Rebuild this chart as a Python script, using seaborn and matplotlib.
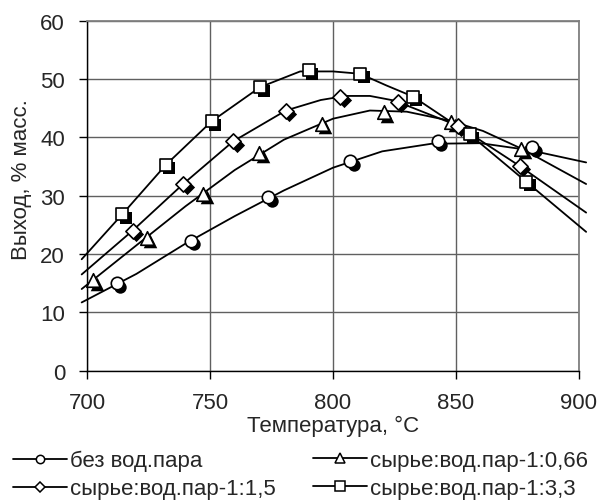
import matplotlib
matplotlib.use("Agg")
import matplotlib.pyplot as plt
import matplotlib.transforms as mtrans
from matplotlib.lines import Line2D
import seaborn as sns
import pandas as pd

# measured points
circ_x = [711.9, 742.0, 773.6, 807.1, 842.7, 881.1]
circ_y = [15.0, 22.3, 29.7, 35.9, 39.3, 38.3]
tri_x = [702.4, 724.1, 747.2, 769.9, 795.5, 820.7, 848.1, 876.6]
tri_y = [15.5, 22.8, 30.3, 37.4, 42.3, 44.3, 42.7, 38.0]
dia_x = [718.4, 739.0, 759.3, 780.8, 803.0, 826.4, 850.8, 875.9]
dia_y = [24.0, 32.0, 39.3, 44.6, 47.0, 46.1, 42.0, 35.1]
sq_x = [714.2, 732.0, 750.6, 770.3, 790.2, 811.1, 832.5, 855.6, 878.6]
sq_y = [26.8, 35.3, 42.75, 48.6, 51.5, 50.9, 47.0, 40.5, 32.4]

# trend curves
circ_cx = [697.7, 720, 740, 760, 780, 800, 820, 840, 860, 880, 903]
circ_cy = [11.7, 16.6, 21.8, 26.5, 30.9, 34.8, 37.6, 38.9, 39.0, 37.8, 35.7]
tri_cx = [697.7, 720, 740, 760, 780, 800, 815, 830, 847, 861, 877, 903]
tri_cy = [14.0, 21.5, 28.2, 34.4, 39.6, 43.2, 44.6, 44.4, 42.9, 41.1, 38.0, 32.0]
dia_cx = [697.7, 718.4, 739, 759.3, 780.8, 795, 805, 815, 825, 850.8, 875.9, 903]
dia_cy = [16.5, 24.0, 32.0, 39.3, 44.6, 46.4, 47.1, 47.1, 46.3, 42.0, 35.1, 27.1]
sq_cx = [697.7, 714.2, 732, 750.6, 770.3, 786.6, 800, 811, 821.7, 832.5, 855.6, 878.6, 903]
sq_cy = [19.1, 26.8, 35.3, 42.75, 48.6, 51.3, 51.3, 50.9, 48.9, 47.0, 40.5, 32.4, 23.8]

labels = ["без вод.пара", "сырье:вод.пар-1:0,66", "сырье:вод.пар-1:1,5", "сырье:вод.пар-1:3,3"]
markers = ["o", "^", "D", "s"]
msizes = [80, 95, 60, 80]

xticks = [700, 750, 800, 850, 900]
yticks = [0, 10, 20, 30, 40, 50, 60]

sns.set_theme(style="white")
plt.rcParams["font.family"] = ["Liberation Sans", "DejaVu Sans"]
FS = 16
LFS = 16

fig = plt.figure(figsize=(6.01, 5.02), dpi=100)
ax = fig.add_axes([0.1453, 0.2596, 0.963 - 0.1453, 0.9568 - 0.2596])

series = [(circ_x, circ_y, circ_cx, circ_cy), (tri_x, tri_y, tri_cx, tri_cy),
          (dia_x, dia_y, dia_cx, dia_cy), (sq_x, sq_y, sq_cx, sq_cy)]

shadow = ax.transData + mtrans.ScaledTranslation(2.5 / 72, -2.5 / 72, fig.dpi_scale_trans)

for (mx, my, cx, cy), lab, m, s in zip(series, labels, markers, msizes):
    cdf = pd.DataFrame({"x": cx, "y": cy})
    sns.lineplot(data=cdf, x="x", y="y", ax=ax, color="black", lw=1.3,
                 sort=False, estimator=None, clip_on=False, zorder=3)
    mdf = pd.DataFrame({"x": mx, "y": my})
    n0 = len(ax.collections)
    sns.scatterplot(data=mdf, x="x", y="y", ax=ax, marker=m, s=s, color="black",
                    edgecolor="black", linewidth=0, zorder=4, clip_on=False)
    ax.collections[n0].set_offset_transform(shadow)
    sns.scatterplot(data=mdf, x="x", y="y", ax=ax, marker=m, s=s, color="white",
                    edgecolor="black", linewidth=1.2, zorder=5, clip_on=False)

ax.set_xlim(700, 900)
ax.set_ylim(0, 60)
ax.set_xticks(xticks)
ax.set_yticks(yticks)
ax.grid(True, color="#606060", lw=1.0)
ax.set_axisbelow(True)
for sp in ["left", "bottom"]:
    ax.spines[sp].set_color("black")
    ax.spines[sp].set_linewidth(1.0)
for sp in ["top", "right"]:
    ax.spines[sp].set_color("#808080")
    ax.spines[sp].set_linewidth(1.3)
ax.tick_params(axis="both", which="major", direction="out", length=6, width=1,
               color="black", labelsize=FS, bottom=True, left=True)
ax.tick_params(axis="x", pad=9.5)
ax.tick_params(axis="y", pad=10)
ax.set_xlabel("Температура, °C", fontsize=FS, labelpad=1)
ax.set_ylabel("Выход, % масс.", fontsize=FS)
ax.yaxis.set_label_coords(-0.112, 0.548)

hs = [Line2D([0], [0], color="black", lw=1.3, marker=m, markersize=ms,
             markerfacecolor="white", markeredgecolor="black", markeredgewidth=1.1)
      for m, ms in zip(markers, [6, 7, 5.5, 6.5])]
kw = dict(loc="upper left", frameon=False, fontsize=LFS, handlelength=2.45,
          handletextpad=0.12, labelspacing=0.32, borderaxespad=0, borderpad=0)
fig.legend([hs[0], hs[2]], [labels[0], labels[2]], bbox_to_anchor=(13 / 601, 0.1016), **kw)
fig.legend([hs[1], hs[3]], [labels[1], labels[3]], bbox_to_anchor=(313 / 601, 0.1016), **kw)

fig.savefig("out.png", dpi=100)
